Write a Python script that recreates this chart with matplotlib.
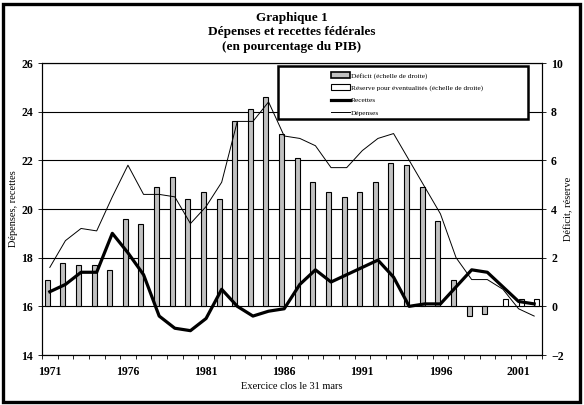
import matplotlib
matplotlib.use("Agg")
import matplotlib.pyplot as plt
from matplotlib.patches import Rectangle, Patch
from matplotlib.lines import Line2D
import numpy as np

plt.rcParams['font.family'] = ['Liberation Serif', 'DejaVu Serif']
plt.rcParams['font.weight'] = 'bold'

years = list(range(1971, 2003))
tick_years = [1971, 1976, 1981, 1986, 1991, 1996, 2001]

# Déficit (right axis), negative values = surplus
deficit = [1.1, 1.8, 1.7, 1.7, 1.5, 3.6, 3.4, 4.9, 5.3, 4.4,
           4.7, 4.4, 7.6, 8.1, 8.6, 7.1, 6.1, 5.1, 4.7, 4.5,
           4.7, 5.1, 5.9, 5.8, 4.9, 3.5, 1.1, -0.4, -0.3, np.nan,
           np.nan, np.nan]
# Réserve pour éventualités (right axis)
reserve = [np.nan] * 29 + [0.3, 0.3, 0.3]
# Recettes (left axis)
recettes = [16.6, 16.9, 17.4, 17.4, 19.0, 18.2, 17.3, 15.6, 15.1, 15.0,
            15.5, 16.7, 16.0, 15.6, 15.8, 15.9, 16.9, 17.5, 17.0, 17.3,
            17.6, 17.9, 17.2, 16.0, 16.1, 16.1, 16.8, 17.5, 17.4, 16.8,
            16.2, 16.1]
# Dépenses (left axis)
depenses = [17.6, 18.7, 19.2, 19.1, 20.5, 21.8, 20.6, 20.6, 20.5, 19.4,
            20.1, 21.1, 23.6, 23.6, 24.4, 23.0, 22.9, 22.6, 21.7, 21.7,
            22.4, 22.9, 23.1, 22.0, 20.9, 19.8, 18.0, 17.1, 17.1, 16.7,
            15.9, 15.6]

W, H = 584, 405
fig = plt.figure(figsize=(W / 100, H / 100), dpi=100)
ax = fig.add_axes([42 / W, 1 - 355 / H, 500 / W, 292 / H])
ax2 = ax.twinx()

x = np.arange(len(years))
bw = 0.32
ax2.bar(x - 0.17, deficit, width=bw, color='#c0c0c0', edgecolor='black',
        linewidth=0.8, zorder=2)
ax2.bar(x + 0.17, reserve, width=bw, color='white', edgecolor='black',
        linewidth=0.8, zorder=2)
ax2.set_ylim(-2, 10)
ax2.set_yticks(range(-2, 11, 2))

ax.set_zorder(ax2.get_zorder() + 1)
ax.patch.set_visible(False)
ax.plot(x, recettes, color='black', linewidth=2.3, zorder=3)
ax.plot(x, depenses, color='black', linewidth=0.7, zorder=3)
ax.set_ylim(14, 26)
ax.set_yticks(range(14, 27, 2))
ax2.grid(axis='y', color='black', linewidth=0.8)
ax2.set_axisbelow(True)

ax.set_xlim(-0.5, len(years) - 0.5)
ax.set_xticks([years.index(y) for y in tick_years])
ax.set_xticklabels([str(y) for y in tick_years])
ax.set_xticks(np.arange(-0.5, len(years)), minor=True)
ax.tick_params(axis='x', which='major', length=0, labelsize=8.5, pad=8)
ax.tick_params(axis='x', which='minor', length=3, width=0.6, direction='out')
ax.tick_params(axis='y', length=3, width=0.6, labelsize=8.5)
ax2.tick_params(axis='y', length=3, width=0.6, labelsize=8.5)

for a in (ax, ax2):
    for s in a.spines.values():
        s.set_linewidth(0.8)

ax.set_xlabel('Exercice clos le 31 mars', fontsize=7.5, labelpad=3)
ax.set_ylabel('Dépenses, recettes', fontsize=7.5, labelpad=2)
ax2.set_ylabel('Déficit, réserve', fontsize=7.5, labelpad=0)

fig.text(0.5, 1 - 18 / H, 'Graphique 1', ha='center', va='center', fontsize=9.5)
fig.text(0.5, 1 - 32 / H, 'Dépenses et recettes fédérales', ha='center',
         va='center', fontsize=9.5)
fig.text(0.5, 1 - 47 / H, '(en pourcentage du PIB)', ha='center',
         va='center', fontsize=9.5)

# legend box
fig.patches.append(Rectangle((278 / W, 1 - 119 / H), 250 / W, 53 / H,
                             transform=fig.transFigure, facecolor='white',
                             edgecolor='black', linewidth=1.8, zorder=5))
handles = [Patch(facecolor='#c0c0c0', edgecolor='black', linewidth=1.2),
           Patch(facecolor='white', edgecolor='black', linewidth=0.8),
           Line2D([], [], color='black', linewidth=2.3),
           Line2D([], [], color='black', linewidth=0.7)]
labels = ['Déficit (échelle de droite)',
          'Réserve pour éventualités (échelle de droite)',
          'Recettes', 'Dépenses']
leg = fig.legend(handles, labels, loc='upper left',
                 bbox_to_anchor=(325 / W, 1 - 66 / H), frameon=False,
                 prop={'size': 5.3, 'weight': 'normal'}, handlelength=2.6,
                 handleheight=0.9, handletextpad=0.1, labelspacing=0.75,
                 borderpad=0.3)
leg.set_zorder(6)

# outer frame
fig.patches.append(Rectangle((3 / W, 3 / H), 577 / W, 398 / H,
                             transform=fig.transFigure, fill=False,
                             edgecolor='black', linewidth=2.4))

fig.savefig('out.png', dpi=100)
